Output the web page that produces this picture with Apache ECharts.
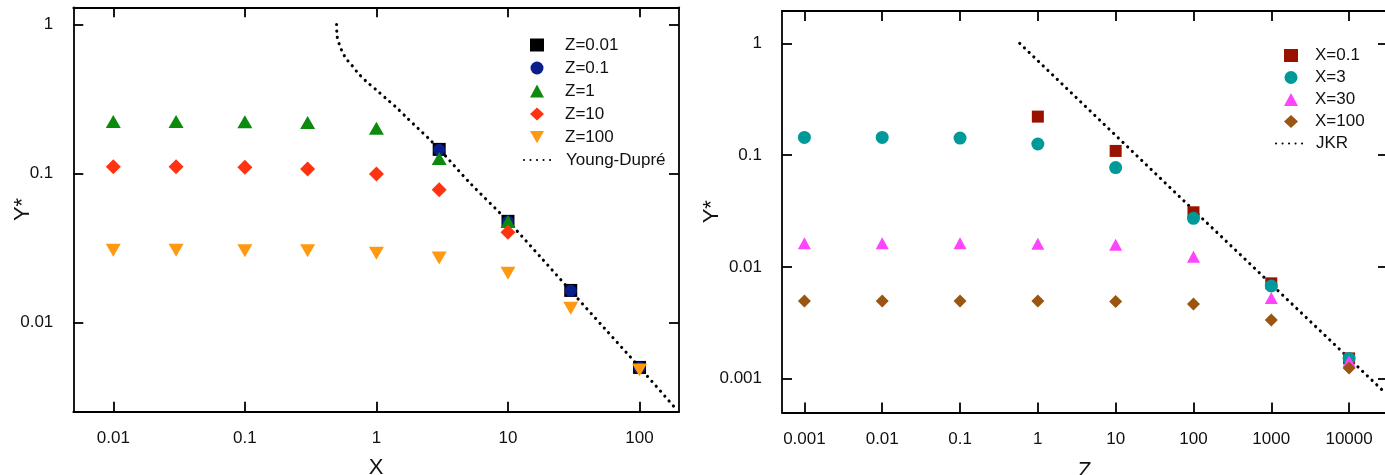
<!DOCTYPE html>
<html>
<head>
<meta charset="utf-8">
<script src="https://cdn.jsdelivr.net/npm/echarts@6/dist/echarts.min.js"></script>
<style>
html,body{margin:0;padding:0;background:#fff;}
#chart{width:1385px;height:475px;}
</style>
</head>
<body>
<div id="chart"></div>
<script>
// ---------- Left panel: Y* vs X ----------
const leftXTicks = [0.01, 0.1, 1, 10, 100];
const leftXTickLabels = ['0.01', '0.1', '1', '10', '100'];
const leftYTicks = [0.01, 0.1, 1];
const leftYTickLabels = ['0.01', '0.1', '1'];

const seriesZ001 = [[3, 0.145], [10, 0.0477], [30, 0.0164], [100, 0.00499]];
const seriesZ01 = [[3, 0.144], [10, 0.0475], [30, 0.0163], [100, 0.00497]];
const seriesZ1 = [[0.01, 0.223], [0.03, 0.223], [0.1, 0.222], [0.3, 0.220], [1, 0.201], [3, 0.126], [10, 0.0475]];
const seriesZ10 = [[0.01, 0.111], [0.03, 0.111], [0.1, 0.110], [0.3, 0.107], [1, 0.099], [3, 0.0778], [10, 0.0403]];
const seriesZ100 = [[0.01, 0.0305], [0.03, 0.0305], [0.1, 0.0303], [0.3, 0.0303], [1, 0.0291], [3, 0.0271], [10, 0.0214], [30, 0.01245], [100, 0.0048]];
const youngDupre = [[0.498, 1.0], [0.500, 0.90], [0.503, 0.828], [0.519, 0.748], [0.543, 0.674], [0.586, 0.593], [0.647, 0.535], [0.727, 0.470], [0.842, 0.413], [1.0, 0.363], [1.196, 0.316], [1.425, 0.276], [1.70, 0.237], [2.08, 0.200], [2.48, 0.1725], [3.04, 0.144], [5.1, 0.087], [10, 0.0478], [18, 0.027], [30, 0.0163], [55, 0.0090], [100, 0.0050], [192, 0.00259]];

// ---------- Right panel: Y* vs Z ----------
const rightXTicks = [0.001, 0.01, 0.1, 1, 10, 100, 1000, 10000];
const rightXTickLabels = ['0.001', '0.01', '0.1', '1', '10', '100', '1000', '10000'];
const rightYTicks = [0.001, 0.01, 0.1, 1];
const rightYTickLabels = ['0.001', '0.01', '0.1', '1'];

const seriesX01 = [[1, 0.221], [10, 0.109], [100, 0.0308], [1000, 0.00713], [10000, 0.00152]];
const seriesX3 = [[0.001, 0.144], [0.01, 0.144], [0.1, 0.142], [1, 0.1257], [10, 0.0773], [100, 0.0272], [1000, 0.00675], [10000, 0.00152]];
const seriesX30 = [[0.001, 0.0163], [0.01, 0.0163], [0.1, 0.0163], [1, 0.0161], [10, 0.0158], [100, 0.0123], [1000, 0.00526], [10000, 0.00143]];
const seriesX100 = [[0.001, 0.00495], [0.01, 0.00495], [0.1, 0.00495], [1, 0.00495], [10, 0.0049], [100, 0.00466], [1000, 0.00335], [10000, 0.00125]];
const jkr = [[0.585, 1.0], [100, 0.0323], [29000, 0.00075]];

// ---------- helpers ----------
const FONT = "'Liberation Sans', Arial, Helvetica, sans-serif";
const lg = pts => pts.map(p => [Math.log10(p[0]), Math.log10(p[1])]);

function axis(gridIndex, position, min, max, ticks, labels, showLabel, margin, name, nameGap) {
  const cv = ticks.map(t => Math.log10(t));
  const a = {
    type: 'value', gridIndex, position, min, max,
    axisLine: {show: true, onZero: false, lineStyle: {color: '#000', width: 1.8}},
    axisTick: {show: true, inside: true, length: 10, customValues: cv, lineStyle: {color: '#000', width: 1.8}},
    splitLine: {show: false},
    axisLabel: {
      show: showLabel, customValues: cv, fontSize: 17, color: '#111', fontFamily: FONT, margin: margin,
      formatter: v => { const i = cv.findIndex(c => Math.abs(c - v) < 1e-6); return i >= 0 ? labels[i] : ''; }
    }
  };
  if (name) {
    a.name = name;
    a.nameLocation = 'middle';
    a.nameGap = nameGap;
    a.nameMoveOverlap = false;
    a.nameTextStyle = {fontSize: 22, color: '#111', fontFamily: FONT};
  }
  return a;
}

const dotted = {color: '#000', width: 3.1, type: [0.1, 6.4], cap: 'round'};
const legendText = pad => ({fontSize: 17, lineHeight: 17, color: '#111', fontFamily: FONT, padding: [0, 0, 0, pad]});
const solid = c => ({color: c, opacity: 1});
const downTriangle = 'path://M0,0L2,0L1,1.75Z';

const option = {
  animation: false,
  backgroundColor: '#fff',
  grid: [
    {left: 73.3, top: 7.3, width: 605.7, height: 404.4, outerBoundsMode: 'none', containLabel: false},
    {left: 782, top: 11, width: 606, height: 401.5, outerBoundsMode: 'none', containLabel: false}
  ],
  xAxis: [
    axis(0, 'bottom', -2.304, 2.30, leftXTicks, leftXTickLabels, true, 18, 'X', 45),
    axis(0, 'top', -2.304, 2.30, leftXTicks, leftXTickLabels, false, 18),
    axis(1, 'bottom', -3.288, 4.5, rightXTicks, rightXTickLabels, true, 18, 'Z', 47),
    axis(1, 'top', -3.288, 4.5, rightXTicks, rightXTickLabels, false, 18)
  ],
  yAxis: [
    axis(0, 'left', -2.599, 0.115, leftYTicks, leftYTickLabels, true, 20, 'Y*', 39),
    axis(0, 'right', -2.599, 0.115, leftYTicks, leftYTickLabels, false, 20),
    axis(1, 'left', -3.302, 0.289, rightYTicks, rightYTickLabels, true, 20, 'Y*', 59),
    axis(1, 'right', -3.302, 0.289, rightYTicks, rightYTickLabels, false, 20)
  ],
  legend: [
    {
      left: 525, top: 31.5, orient: 'vertical', itemWidth: 14, itemHeight: 13, itemGap: 6,
      textStyle: legendText(16),
      data: ['Z=0.01', 'Z=0.1', 'Z=1', 'Z=10', {name: 'Z=100', icon: downTriangle}]
    },
    {
      left: 518, top: 146.5, orient: 'vertical', itemWidth: 28, itemHeight: 13, itemGap: 6,
      textStyle: legendText(9),
      data: ['Young-Dupré']
    },
    {
      left: 1279, top: 42, orient: 'vertical', itemWidth: 14, itemHeight: 13, itemGap: 5,
      textStyle: legendText(12),
      data: ['X=0.1', 'X=3', 'X=30', 'X=100']
    },
    {
      left: 1270, top: 130, orient: 'vertical', itemWidth: 28, itemHeight: 13, itemGap: 5,
      textStyle: legendText(7),
      data: ['JKR']
    }
  ],
  series: [
    {name: 'Young-Dupré', type: 'line', xAxisIndex: 0, yAxisIndex: 0, data: lg(youngDupre), smooth: 0.3, symbol: 'none', lineStyle: dotted, itemStyle: {color: 'rgba(0,0,0,0)'}, z: 1},
    {name: 'Z=0.01', type: 'scatter', xAxisIndex: 0, yAxisIndex: 0, data: lg(seriesZ001), symbol: 'rect', symbolSize: 13, itemStyle: solid('#000000')},
    {name: 'Z=0.1', type: 'scatter', xAxisIndex: 0, yAxisIndex: 0, data: lg(seriesZ01), symbol: 'circle', symbolSize: 12, itemStyle: solid('#0a1f8c')},
    {name: 'Z=1', type: 'scatter', xAxisIndex: 0, yAxisIndex: 0, data: lg(seriesZ1), symbol: 'triangle', symbolSize: [15, 13], itemStyle: solid('#0b8a0b')},
    {name: 'Z=10', type: 'scatter', xAxisIndex: 0, yAxisIndex: 0, data: lg(seriesZ10), symbol: 'diamond', symbolSize: [15, 15], itemStyle: solid('#ff3311')},
    {name: 'Z=100', type: 'scatter', xAxisIndex: 0, yAxisIndex: 0, data: lg(seriesZ100), symbol: 'triangle', symbolRotate: 180, symbolSize: [15, 13], itemStyle: solid('#ff9911')},

    {name: 'JKR', type: 'line', xAxisIndex: 2, yAxisIndex: 2, data: lg(jkr), symbol: 'none', lineStyle: dotted, itemStyle: {color: 'rgba(0,0,0,0)'}, z: 1},
    {name: 'X=0.1', type: 'scatter', xAxisIndex: 2, yAxisIndex: 2, data: lg(seriesX01), symbol: 'rect', symbolSize: 12, itemStyle: solid('#991100')},
    {name: 'X=3', type: 'scatter', xAxisIndex: 2, yAxisIndex: 2, data: lg(seriesX3), symbol: 'circle', symbolSize: 13, itemStyle: solid('#009999')},
    {name: 'X=30', type: 'scatter', xAxisIndex: 2, yAxisIndex: 2, data: lg(seriesX30), symbol: 'triangle', symbolSize: [13, 12], itemStyle: solid('#ff44ff')},
    {name: 'X=100', type: 'scatter', xAxisIndex: 2, yAxisIndex: 2, data: lg(seriesX100), symbol: 'diamond', symbolSize: [13, 13], itemStyle: solid('#995511')}
  ]
};

const chart = echarts.init(document.getElementById('chart'), null, {renderer: 'canvas'});
chart.setOption(option);
</script>
</body>
</html>
